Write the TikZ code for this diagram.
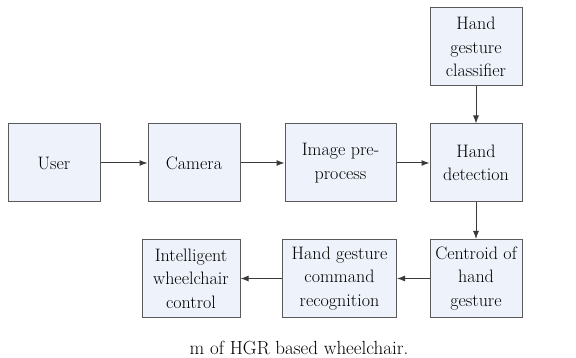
\documentclass[tikz,border=0pt]{standalone}
\usetikzlibrary{arrows.meta}
\usetikzlibrary{positioning}

\definecolor{boxfill}{HTML}{EEF2FA}
\definecolor{boxline}{HTML}{5A5A5A}
\definecolor{arrline}{HTML}{3A3A3A}

\begin{document}
\begin{tikzpicture}[x=1pt, y=-1pt,
    block/.style={draw=boxline, fill=boxfill, line width=1pt, minimum width=92pt,
      minimum height=78pt, align=center, inner sep=0pt,
      font=\fontsize{18}{23.5}\selectfont},
    flow/.style={draw=arrline, line width=1pt, -{Latex[length=8pt,width=6pt]}}]
    \useasboundingbox (0,0) rectangle (576,358);

    % top row
    \node[block] (user) at (54,163) {User};
    \node[block] (camera) at (194,163) {Camera};
    \node[block, minimum width=111pt] (prep) at (340.5,163) {Image pre-\\process};
    \node[block] (detect) at (476,163) {Hand\\detection};
    \node[block] (classifier) at (476,47) {Hand\\gesture\\classifier};

    % bottom row
    \node[block] (centroid) at (476,278.5) {Centroid of\\hand\\gesture};
    \node[block, minimum width=114pt] (command) at (339.5,278.5) {Hand gesture\\command\\recognition};
    \node[block, minimum width=98pt] (wheel) at (191,278.5) {Intelligent\\wheelchair\\control};

    \draw[flow] (user) -- (camera);
    \draw[flow] (camera) -- (prep);
    \draw[flow] (prep) -- (detect);
    \draw[flow] (classifier) -- (detect);
    \draw[flow] (detect) -- (centroid);
    \draw[flow] (centroid) -- (command);
    \draw[flow] (command) -- (wheel);

    \node[font=\fontsize{19}{23}\selectfont] (caption) at (299,348) {m of HGR based wheelchair.};
\end{tikzpicture}
\end{document}
